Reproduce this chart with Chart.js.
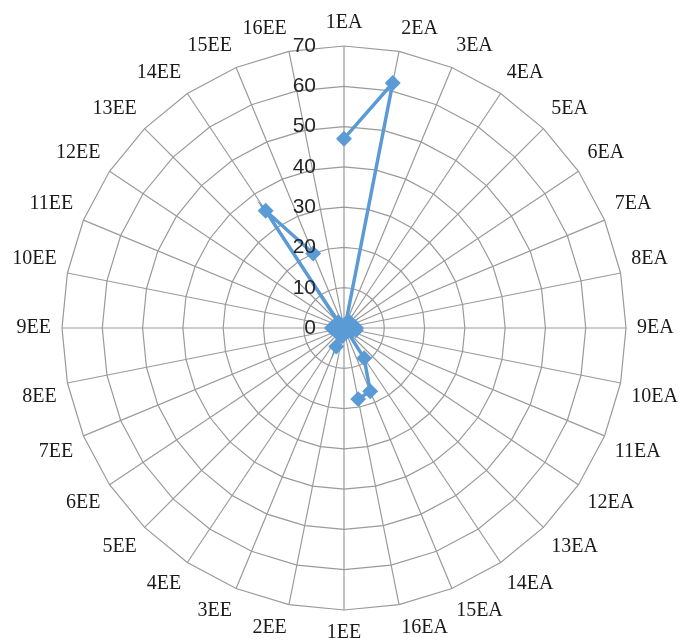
<!DOCTYPE html>
<html>
<head>
<meta charset="utf-8">
<script src="https://cdn.jsdelivr.net/npm/chart.js@4.4.1/dist/chart.umd.min.js"></script>
<style>
    html, body { margin: 0; padding: 0; background: #fff; overflow: hidden; }
    #wrap { position: absolute; left: 0; top: 0; width: 683px; height: 650px; }
</style>
</head>
<body>
<div id="wrap"><canvas id="radar-canvas"></canvas></div>
<script>
// radar chart, EA / EE sectors

const categories = [
    '1EA', '2EA', '3EA', '4EA', '5EA', '6EA', '7EA', '8EA',
    '9EA', '10EA', '11EA', '12EA', '13EA', '14EA', '15EA', '16EA',
    '1EE', '2EE', '3EE', '4EE', '5EE', '6EE', '7EE', '8EE',
    '9EE', '10EE', '11EE', '12EE', '13EE', '14EE', '15EE', '16EE'
];

// blanks (null) break the line, as in the original
const seriesValues = [
    47, 62, 1, 2, 1, 2, 1, 2,
    3, 3, 2, 1, 1, 9, 17, 18,
    null, 2, 5, 2, 1, 1, 1, 2,
    3, 2, 2, 1, 2, 35, 20, null
];

const tickValues = [0, 10, 20, 30, 40, 50, 60, 70];

// value labels drawn left of the vertical axis, like Excel does
const axisLabels = {
    id: 'axisLabels',
    afterDatasetsDraw(chart) {
        const scale = chart.scales.r;
        const ctx = chart.ctx;
        ctx.save();
        ctx.font = '21px "Liberation Sans", Arial, sans-serif';
        ctx.fillStyle = '#262626';
        ctx.textAlign = 'right';
        ctx.textBaseline = 'middle';
        tickValues.forEach(v => {
            const y = scale.yCenter - scale.getDistanceFromCenterForValue(v);
            ctx.fillText(String(v), scale.xCenter - 28, y);
        });
        ctx.restore();
    }
};

const radarCtx = document.getElementById('radar-canvas').getContext('2d');
const radarChart = new Chart(radarCtx, {
    type: 'radar',
    data: {
        labels: categories,
        datasets: [{
            data: seriesValues,
            borderColor: '#5b9bd5',
            backgroundColor: '#5b9bd5',
            borderWidth: 3.5,
            fill: false,
            spanGaps: false,
            pointStyle: 'rectRot',
            pointRadius: 5.5,
            pointHoverRadius: 5.5,
            pointBackgroundColor: '#5b9bd5',
            pointBorderColor: '#5b9bd5'
        }]
    },
    options: {
        responsive: true,
        maintainAspectRatio: false,
        animation: false,
        layout: {
            padding: { top: 11, bottom: 5, left: 8, right: 0 }
        },
        plugins: {
            legend: { display: false },
            tooltip: { enabled: false }
        },
        scales: {
            r: {
                min: 0,
                max: 70,
                ticks: {
                    stepSize: 10,
                    display: false
                },
                grid: {
                    color: '#9a9a9a',
                    lineWidth: 1.2
                },
                angleLines: {
                    color: '#9a9a9a',
                    lineWidth: 1.2
                },
                pointLabels: {
                    padding: 11,
                    color: '#1a1a1a',
                    font: {
                        family: '"Liberation Serif", "Times New Roman", serif',
                        size: 20
                    }
                }
            }
        }
    },
    plugins: [axisLabels]
});
</script>
</body>
</html>
